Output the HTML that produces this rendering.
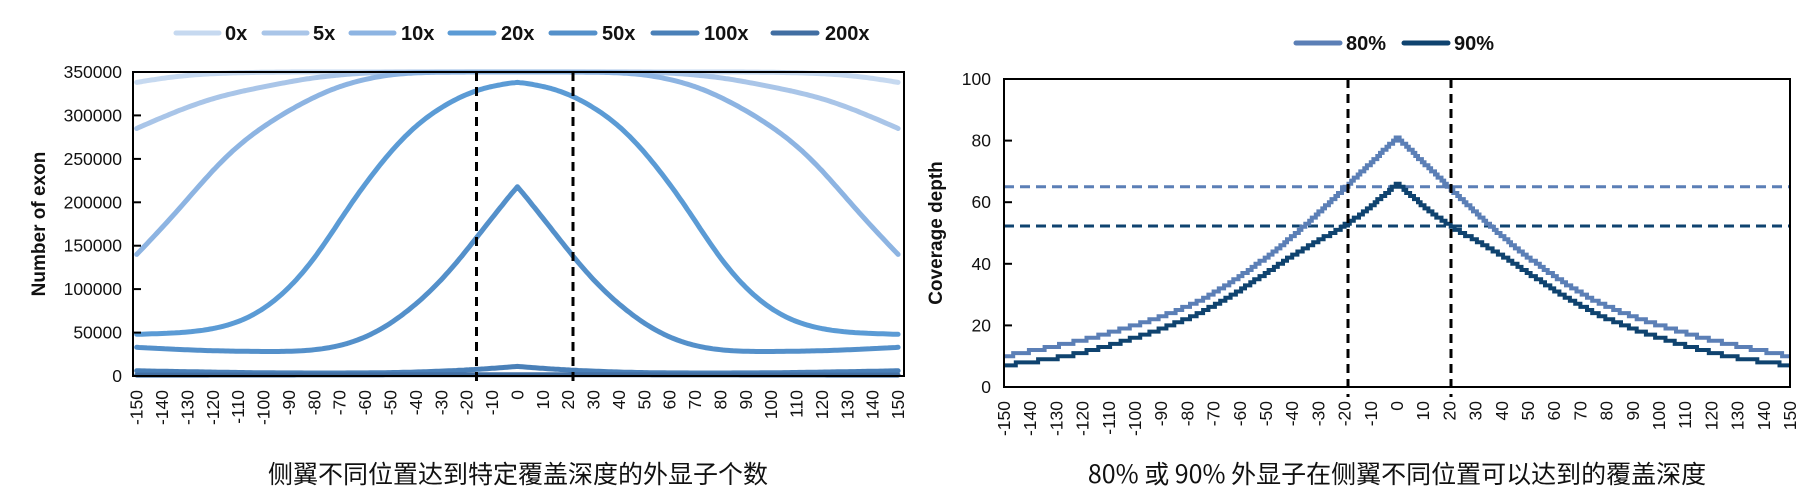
<!DOCTYPE html>
<html><head><meta charset="utf-8">
<style>
html,body{margin:0;padding:0;background:#fff;}
svg{display:block;}
text{font-family:"Liberation Sans","Noto Sans CJK SC",sans-serif;fill:#111;}
.tk{font-size:17.5px;}
.lg{font-size:20px;font-weight:bold;}
.ax{font-size:19px;font-weight:bold;}
.tt{font-size:25px;font-family:"Noto Sans CJK SC","Liberation Sans",sans-serif;}
</style></head>
<body>
<svg id="s" width="1815" height="499" viewBox="0 0 1815 499" xmlns="http://www.w3.org/2000/svg">
<!-- LEFT CHART -->
<g id="lcurves" fill="none" stroke-width="5" stroke-linecap="round" stroke-linejoin="round"></g>
<rect x="133" y="72" width="771" height="304" fill="none" stroke="#000" stroke-width="2"/>
<line x1="476.5" y1="72" x2="476.5" y2="386" stroke="#000" stroke-width="3" stroke-dasharray="9,6"/>
<line x1="573" y1="72" x2="573" y2="386" stroke="#000" stroke-width="3" stroke-dasharray="9,6"/>
<g stroke="#000" stroke-width="2">
<line x1="133" y1="332.6" x2="141" y2="332.6"/><line x1="133" y1="289.1" x2="141" y2="289.1"/>
<line x1="133" y1="245.7" x2="141" y2="245.7"/><line x1="133" y1="202.3" x2="141" y2="202.3"/>
<line x1="133" y1="158.9" x2="141" y2="158.9"/><line x1="133" y1="115.4" x2="141" y2="115.4"/>
</g>
<g class="tk" text-anchor="end">
<text x="122" y="382">0</text><text x="122" y="338.6">50000</text><text x="122" y="295.1">100000</text>
<text x="122" y="251.7">150000</text><text x="122" y="208.3">200000</text><text x="122" y="164.9">250000</text>
<text x="122" y="121.4">300000</text><text x="122" y="78">350000</text>
</g>
<text class="ax" transform="translate(38,224) rotate(-90)" text-anchor="middle" dy="7">Number of exon</text>
<g class="tk" text-anchor="end" id="lx">
<text transform="translate(136.7,390) rotate(-90)" dy="6">-150</text>
<text transform="translate(162.1,390) rotate(-90)" dy="6">-140</text>
<text transform="translate(187.5,390) rotate(-90)" dy="6">-130</text>
<text transform="translate(212.8,390) rotate(-90)" dy="6">-120</text>
<text transform="translate(238.2,390) rotate(-90)" dy="6">-110</text>
<text transform="translate(263.6,390) rotate(-90)" dy="6">-100</text>
<text transform="translate(289.0,390) rotate(-90)" dy="6">-90</text>
<text transform="translate(314.3,390) rotate(-90)" dy="6">-80</text>
<text transform="translate(339.7,390) rotate(-90)" dy="6">-70</text>
<text transform="translate(365.1,390) rotate(-90)" dy="6">-60</text>
<text transform="translate(390.5,390) rotate(-90)" dy="6">-50</text>
<text transform="translate(415.9,390) rotate(-90)" dy="6">-40</text>
<text transform="translate(441.3,390) rotate(-90)" dy="6">-30</text>
<text transform="translate(466.6,390) rotate(-90)" dy="6">-20</text>
<text transform="translate(492.0,390) rotate(-90)" dy="6">-10</text>
<text transform="translate(517.4,390) rotate(-90)" dy="6">0</text>
<text transform="translate(542.8,390) rotate(-90)" dy="6">10</text>
<text transform="translate(568.2,390) rotate(-90)" dy="6">20</text>
<text transform="translate(593.5,390) rotate(-90)" dy="6">30</text>
<text transform="translate(618.9,390) rotate(-90)" dy="6">40</text>
<text transform="translate(644.3,390) rotate(-90)" dy="6">50</text>
<text transform="translate(669.7,390) rotate(-90)" dy="6">60</text>
<text transform="translate(695.1,390) rotate(-90)" dy="6">70</text>
<text transform="translate(720.4,390) rotate(-90)" dy="6">80</text>
<text transform="translate(745.8,390) rotate(-90)" dy="6">90</text>
<text transform="translate(771.2,390) rotate(-90)" dy="6">100</text>
<text transform="translate(796.6,390) rotate(-90)" dy="6">110</text>
<text transform="translate(822.0,390) rotate(-90)" dy="6">120</text>
<text transform="translate(847.3,390) rotate(-90)" dy="6">130</text>
<text transform="translate(872.7,390) rotate(-90)" dy="6">140</text>
<text transform="translate(898.1,390) rotate(-90)" dy="6">150</text>
</g>
<!-- left legend -->
<g stroke-width="5" stroke-linecap="round">
<line x1="176" y1="33" x2="219" y2="33" stroke="#c6d9f0"/>
<line x1="264" y1="33" x2="307" y2="33" stroke="#a9c5e8"/>
<line x1="351" y1="33" x2="394" y2="33" stroke="#8db4e2"/>
<line x1="450" y1="33" x2="494" y2="33" stroke="#5b9bd5"/>
<line x1="551" y1="33" x2="595" y2="33" stroke="#5490ca"/>
<line x1="653" y1="33" x2="697" y2="33" stroke="#4a80b8"/>
<line x1="773" y1="33" x2="817" y2="33" stroke="#416ea2"/>
</g>
<g class="lg">
<text x="225" y="40">0x</text><text x="313" y="40">5x</text><text x="401" y="40">10x</text>
<text x="501" y="40">20x</text><text x="602" y="40">50x</text><text x="704" y="40">100x</text><text x="825" y="40">200x</text>
</g>
<text class="tt" x="518" y="483" text-anchor="middle">侧翼不同位置达到特定覆盖深度的外显子个数</text>

<!-- RIGHT CHART -->
<line x1="1004" y1="186.8" x2="1790" y2="186.8" stroke="#5b7fb6" stroke-width="3" stroke-dasharray="10,6"/>
<line x1="1004" y1="226" x2="1790" y2="226" stroke="#0f436f" stroke-width="3" stroke-dasharray="10,6"/>
<g id="rcurves" fill="none" stroke-width="4"></g>
<rect x="1004" y="79" width="786" height="308" fill="none" stroke="#000" stroke-width="2"/>
<line x1="1348" y1="79" x2="1348" y2="397" stroke="#000" stroke-width="3" stroke-dasharray="9,6"/>
<line x1="1451" y1="79" x2="1451" y2="397" stroke="#000" stroke-width="3" stroke-dasharray="9,6"/>
<g stroke="#000" stroke-width="2">
<line x1="1004" y1="325.4" x2="1012" y2="325.4"/><line x1="1004" y1="263.8" x2="1012" y2="263.8"/>
<line x1="1004" y1="202.2" x2="1012" y2="202.2"/><line x1="1004" y1="140.6" x2="1012" y2="140.6"/>
</g>
<g class="tk" text-anchor="end">
<text x="991" y="393">0</text><text x="991" y="331.4">20</text><text x="991" y="269.8">40</text>
<text x="991" y="208.2">60</text><text x="991" y="146.6">80</text><text x="991" y="85">100</text>
</g>
<text class="ax" transform="translate(935,233) rotate(-90)" text-anchor="middle" dy="7">Coverage depth</text>
<g class="tk" text-anchor="end">
<text transform="translate(1004.0,401) rotate(-90)" dy="6">-150</text>
<text transform="translate(1030.2,401) rotate(-90)" dy="6">-140</text>
<text transform="translate(1056.4,401) rotate(-90)" dy="6">-130</text>
<text transform="translate(1082.6,401) rotate(-90)" dy="6">-120</text>
<text transform="translate(1108.8,401) rotate(-90)" dy="6">-110</text>
<text transform="translate(1135.0,401) rotate(-90)" dy="6">-100</text>
<text transform="translate(1161.2,401) rotate(-90)" dy="6">-90</text>
<text transform="translate(1187.4,401) rotate(-90)" dy="6">-80</text>
<text transform="translate(1213.6,401) rotate(-90)" dy="6">-70</text>
<text transform="translate(1239.8,401) rotate(-90)" dy="6">-60</text>
<text transform="translate(1266.0,401) rotate(-90)" dy="6">-50</text>
<text transform="translate(1292.2,401) rotate(-90)" dy="6">-40</text>
<text transform="translate(1318.4,401) rotate(-90)" dy="6">-30</text>
<text transform="translate(1344.6,401) rotate(-90)" dy="6">-20</text>
<text transform="translate(1370.8,401) rotate(-90)" dy="6">-10</text>
<text transform="translate(1397.0,401) rotate(-90)" dy="6">0</text>
<text transform="translate(1423.2,401) rotate(-90)" dy="6">10</text>
<text transform="translate(1449.4,401) rotate(-90)" dy="6">20</text>
<text transform="translate(1475.6,401) rotate(-90)" dy="6">30</text>
<text transform="translate(1501.8,401) rotate(-90)" dy="6">40</text>
<text transform="translate(1528.0,401) rotate(-90)" dy="6">50</text>
<text transform="translate(1554.2,401) rotate(-90)" dy="6">60</text>
<text transform="translate(1580.4,401) rotate(-90)" dy="6">70</text>
<text transform="translate(1606.6,401) rotate(-90)" dy="6">80</text>
<text transform="translate(1632.8,401) rotate(-90)" dy="6">90</text>
<text transform="translate(1659.0,401) rotate(-90)" dy="6">100</text>
<text transform="translate(1685.2,401) rotate(-90)" dy="6">110</text>
<text transform="translate(1711.4,401) rotate(-90)" dy="6">120</text>
<text transform="translate(1737.6,401) rotate(-90)" dy="6">130</text>
<text transform="translate(1763.8,401) rotate(-90)" dy="6">140</text>
<text transform="translate(1790.0,401) rotate(-90)" dy="6">150</text>
</g>
<line x1="1296" y1="43" x2="1340" y2="43" stroke="#5b7fb6" stroke-width="5" stroke-linecap="round"/>
<line x1="1404" y1="43" x2="1448" y2="43" stroke="#0f436f" stroke-width="5" stroke-linecap="round"/>
<g class="lg"><text x="1346" y="50">80%</text><text x="1454" y="50">90%</text></g>
<text class="tt" x="1397" y="483" text-anchor="middle">80% 或 90% 外显子在侧翼不同位置可以达到的覆盖深度</text>
</svg>
<script>
function mono(pts){
  var n=pts.length,h=[],d=[],m=[];
  for(var i=0;i<n-1;i++){h[i]=pts[i+1][0]-pts[i][0];d[i]=(pts[i+1][1]-pts[i][1])/h[i];}
  m[0]=d[0];m[n-1]=d[n-2];
  for(var i=1;i<n-1;i++){
    if(d[i-1]*d[i]<=0)m[i]=0;
    else{var w1=2*h[i]+h[i-1],w2=h[i]+2*h[i-1];m[i]=(w1+w2)/(w1/d[i-1]+w2/d[i]);}
  }
  return function(t){
    for(var i=0;i<n-1;i++){
      if(t<=pts[i+1][0]||i==n-2){
        var u=(t-pts[i][0])/h[i],u2=u*u,u3=u2*u;
        return (2*u3-3*u2+1)*pts[i][1]+(u3-2*u2+u)*h[i]*m[i]+(-2*u3+3*u2)*pts[i+1][1]+(u3-u2)*h[i]*m[i+1];
      }
    }
  };
}
// smoothed table over t=0..150 (cusp at 0 and endpoints preserved)
function table(pts,W){
  var f=mono(pts),raw=[],out=[];
  for(var t=0;t<=150;t++)raw[t]=f(t);
  for(var t=0;t<=150;t++){
    var w=Math.min(W,t,150-t),s=0;
    for(var k=-w;k<=w;k++)s+=raw[t+k];
    out[t]=s/(2*w+1);
  }
  for(var p=0;p<2;p++){var o2=[];for(var t=0;t<=150;t++){var w=Math.min(W,t,150-t),s=0;for(var k=-w;k<=w;k++)s+=out[t+k];o2[t]=s/(2*w+1);}out=o2;}
  return function(t){var i=Math.floor(t),fr=t-i;if(i>=150)return out[150];return out[i]*(1-fr)+out[i+1]*fr;};
}
var NS="http://www.w3.org/2000/svg";
var L=[
 ["#c6d9f0",[[0,350000],[90,350000],[120,348300],[135,345000],[150,338000]]],
 ["#a9c5e8",[[0,350000],[50,350000],[75,345500],[100,333000],[120,320000],[135,304000],[150,285000]]],
 ["#8db4e2",[[0,350000],[20,350000],[44,349000],[67,337000],[90,306000],[113,259000],[135,186000],[150,140000]]],
 ["#5b9bd5",[[0,338000],[10,335000],[20,326000],[30,310000],[44,280000],[55,240000],[67,195000],[78,140000],[90,100000],[100,75000],[113,58000],[130,50000],[150,48000]]],
 ["#5490ca",[[0,218000],[8,190000],[16,160000],[25,125000],[33,100000],[45,70000],[55,50000],[65,38000],[75,31000],[90,28000],[120,29000],[150,33000]]],
 ["#4a80b8",[[0,11000],[16,7500],[40,4500],[60,3500],[90,3500],[120,4500],[150,6000]]],
 ["#416ea2",[[0,1500],[150,1000]]]
];
var lg=document.getElementById("lcurves");
L.forEach(function(s){
  var f=table(s[1],7),d="";
  for(var x=-150;x<=150;x+=1){
    var v=f(Math.abs(x));
    var px=517.4+x*2.538,py=376-v*304/350000;
    d+=(x==-150?"M":"L")+px.toFixed(1)+" "+py.toFixed(1);
  }
  var p=document.createElementNS(NS,"path");
  p.setAttribute("d",d);p.setAttribute("stroke",s[0]);lg.appendChild(p);
});
var R=[
 ["#5b7fb6",[[0,81],[19,65.5],[37,51],[50,42],[75,28],[100,20],[126,14],[150,10]]],
 ["#0f436f",[[0,66],[19,52.6],[37,44.5],[50,37],[75,24],[100,16],[126,10],[150,7]]]
];
var rg=document.getElementById("rcurves");
R.forEach(function(s){
  var f=table(s[1],6),d="",prev=null;
  for(var x=-150;x<=150;x+=0.5){
    var v=Math.round(f(Math.abs(x)));
    var px=1397+x*2.62,py=387-v*3.08;
    if(prev===null){d="M"+px.toFixed(1)+" "+py.toFixed(1);}
    else{d+="H"+px.toFixed(1);if(v!==prev)d+="V"+py.toFixed(1);}
    prev=v;
  }
  var p=document.createElementNS(NS,"path");
  p.setAttribute("d",d);p.setAttribute("stroke",s[0]);rg.appendChild(p);
});
</script>
</body></html>
